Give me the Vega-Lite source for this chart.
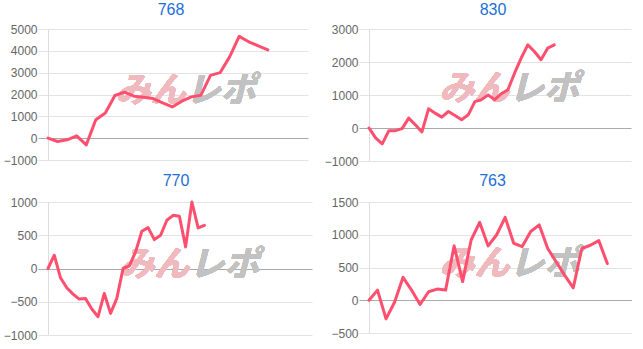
{
  "$schema": "https://vega.github.io/schema/vega-lite/v6.json",
  "background": "white",
  "padding": {"left": 3, "top": 2, "right": 0, "bottom": 0},
  "spacing": 6,
  "config": {
    "view": {"stroke": null},
    "axis": {"domainColor": "#dddddd", "labelFont": "Liberation Sans", "labelFontSize": 12, "labelColor": "#666666", "labelPadding": 1, "tickSize": 10, "grid": true, "format": "d", "title": null},
    "title": {"font": "Liberation Sans", "fontSize": 16, "fontWeight": "normal", "color": "#1c6fd6", "frame": "group", "anchor": "middle"},
    "line": {"color": "#ff4f6e", "strokeWidth": 3, "strokeJoin": "round", "strokeCap": "round"},
    "text": {"font": "Noto Sans CJK JP", "fontSize": 35, "fontWeight": "bold", "fontStyle": "italic", "baseline": "middle"}
  },
  "vconcat": [
    {
      "spacing": 16,
      "hconcat": [
        {
          "width": 260, "height": 131,
          "title": {"text": "768", "dx": -7, "offset": 5},
          "data": {"values": [
            {"i":0,"v":0},{"i":1,"v":-154},{"i":2,"v":-77},{"i":3,"v":108},{"i":4,"v":-308},{"i":5,"v":846},{"i":6,"v":1154},{"i":7,"v":1954},{"i":8,"v":2108},{"i":9,"v":1923},{"i":10,"v":1877},{"i":11,"v":1815},{"i":12,"v":1615},{"i":13,"v":1431},{"i":14,"v":1692},{"i":15,"v":1892},{"i":16,"v":1969},{"i":17,"v":2877},{"i":18,"v":3000},{"i":19,"v":3723},{"i":20,"v":4662},{"i":21,"v":4415},{"i":22,"v":4230},{"i":23,"v":4046}
          ]},
          "layer": [
            {"mark": {"type": "text", "text": "みん", "align": "right", "color": "#efb9be"},
             "encoding": {"x": {"datum": 14.4, "type": "quantitative", "scale": {"domain": [0, 27.2]}, "axis": null},
                          "y": {"datum": 2170, "type": "quantitative", "scale": {"domain": [-1000, 5000]}, "axis": {"values": [-1000,0,1000,2000,3000,4000,5000], "gridColor": {"condition": {"test": "datum.value === 0", "value": "#aaaaaa"}, "value": "#e3e3e3"}, "tickColor": {"condition": {"test": "datum.value === 0", "value": "#aaaaaa"}, "value": "#e3e3e3"}}}}},
            {"mark": {"type": "text", "text": "レポ", "align": "left", "color": "#c2c2c2"},
             "encoding": {"x": {"datum": 14.4, "type": "quantitative", "scale": {"domain": [0, 27.2]}, "axis": null},
                          "y": {"datum": 2170, "type": "quantitative", "scale": {"domain": [-1000, 5000]}, "axis": {"values": [-1000,0,1000,2000,3000,4000,5000], "gridColor": {"condition": {"test": "datum.value === 0", "value": "#aaaaaa"}, "value": "#e3e3e3"}, "tickColor": {"condition": {"test": "datum.value === 0", "value": "#aaaaaa"}, "value": "#e3e3e3"}}}}},
            {"mark": {"type": "line"},
             "encoding": {"x": {"field": "i", "type": "quantitative", "scale": {"domain": [0, 27.2]}, "axis": null},
                          "y": {"field": "v", "type": "quantitative", "scale": {"domain": [-1000, 5000]}, "axis": {"values": [-1000,0,1000,2000,3000,4000,5000], "gridColor": {"condition": {"test": "datum.value === 0", "value": "#aaaaaa"}, "value": "#e3e3e3"}, "tickColor": {"condition": {"test": "datum.value === 0", "value": "#aaaaaa"}, "value": "#e3e3e3"}}}}}
          ]
        },
        {
          "width": 262, "height": 132,
          "title": {"text": "830", "dx": -7, "offset": 5},
          "data": {"values": [
            {"i":0,"v":0},{"i":1,"v":-300},{"i":2,"v":-480},{"i":3,"v":-80},{"i":4,"v":-80},{"i":5,"v":-20},{"i":6,"v":300},{"i":7,"v":100},{"i":8,"v":-120},{"i":9,"v":580},{"i":10,"v":450},{"i":11,"v":330},{"i":12,"v":500},{"i":13,"v":380},{"i":14,"v":250},{"i":15,"v":400},{"i":16,"v":800},{"i":17,"v":860},{"i":18,"v":1000},{"i":19,"v":860},{"i":20,"v":1040},{"i":21,"v":1160},{"i":22,"v":1660},{"i":23,"v":2120},{"i":24,"v":2520},{"i":25,"v":2320},{"i":26,"v":2070},{"i":27,"v":2420},{"i":28,"v":2520}
          ]},
          "layer": [
            {"mark": {"type": "text", "text": "みん", "align": "right", "color": "#efb9be"},
             "encoding": {"x": {"datum": 21.2, "type": "quantitative", "scale": {"domain": [0, 39.6]}, "axis": null},
                          "y": {"datum": 1170, "type": "quantitative", "scale": {"domain": [-1000, 3000]}, "axis": {"values": [-1000,0,1000,2000,3000], "gridColor": {"condition": {"test": "datum.value === 0", "value": "#aaaaaa"}, "value": "#e3e3e3"}, "tickColor": {"condition": {"test": "datum.value === 0", "value": "#aaaaaa"}, "value": "#e3e3e3"}}}}},
            {"mark": {"type": "text", "text": "レポ", "align": "left", "color": "#c2c2c2"},
             "encoding": {"x": {"datum": 21.2, "type": "quantitative", "scale": {"domain": [0, 39.6]}, "axis": null},
                          "y": {"datum": 1170, "type": "quantitative", "scale": {"domain": [-1000, 3000]}, "axis": {"values": [-1000,0,1000,2000,3000], "gridColor": {"condition": {"test": "datum.value === 0", "value": "#aaaaaa"}, "value": "#e3e3e3"}, "tickColor": {"condition": {"test": "datum.value === 0", "value": "#aaaaaa"}, "value": "#e3e3e3"}}}}},
            {"mark": {"type": "line"},
             "encoding": {"x": {"field": "i", "type": "quantitative", "scale": {"domain": [0, 39.6]}, "axis": null},
                          "y": {"field": "v", "type": "quantitative", "scale": {"domain": [-1000, 3000]}, "axis": {"values": [-1000,0,1000,2000,3000], "gridColor": {"condition": {"test": "datum.value === 0", "value": "#aaaaaa"}, "value": "#e3e3e3"}, "tickColor": {"condition": {"test": "datum.value === 0", "value": "#aaaaaa"}, "value": "#e3e3e3"}}}}}
          ]
        }
      ]
    },
    {
      "spacing": 18,
      "hconcat": [
        {
          "width": 264, "height": 133,
          "title": {"text": "770", "dx": -4, "offset": 7},
          "data": {"values": [
            {"i":0,"v":0},{"i":1,"v":200},{"i":2,"v":-140},{"i":3,"v":-290},{"i":4,"v":-385},{"i":5,"v":-460},{"i":6,"v":-450},{"i":7,"v":-610},{"i":8,"v":-725},{"i":9,"v":-375},{"i":10,"v":-675},{"i":11,"v":-450},{"i":12,"v":0},{"i":13,"v":40},{"i":14,"v":250},{"i":15,"v":560},{"i":16,"v":615},{"i":17,"v":435},{"i":18,"v":500},{"i":19,"v":725},{"i":20,"v":800},{"i":21,"v":785},{"i":22,"v":325},{"i":23,"v":1000},{"i":24,"v":610},{"i":25,"v":650}
          ]},
          "layer": [
            {"mark": {"type": "text", "text": "みん", "align": "right", "color": "#efb9be"},
             "encoding": {"x": {"datum": 22.6, "type": "quantitative", "scale": {"domain": [0, 42.2]}, "axis": null},
                          "y": {"datum": 60, "type": "quantitative", "scale": {"domain": [-1000, 1000]}, "axis": {"values": [-1000,-500,0,500,1000], "gridColor": {"condition": {"test": "datum.value === 0", "value": "#aaaaaa"}, "value": "#e3e3e3"}, "tickColor": {"condition": {"test": "datum.value === 0", "value": "#aaaaaa"}, "value": "#e3e3e3"}}}}},
            {"mark": {"type": "text", "text": "レポ", "align": "left", "color": "#c2c2c2"},
             "encoding": {"x": {"datum": 22.6, "type": "quantitative", "scale": {"domain": [0, 42.2]}, "axis": null},
                          "y": {"datum": 60, "type": "quantitative", "scale": {"domain": [-1000, 1000]}, "axis": {"values": [-1000,-500,0,500,1000], "gridColor": {"condition": {"test": "datum.value === 0", "value": "#aaaaaa"}, "value": "#e3e3e3"}, "tickColor": {"condition": {"test": "datum.value === 0", "value": "#aaaaaa"}, "value": "#e3e3e3"}}}}},
            {"mark": {"type": "line"},
             "encoding": {"x": {"field": "i", "type": "quantitative", "scale": {"domain": [0, 42.2]}, "axis": null},
                          "y": {"field": "v", "type": "quantitative", "scale": {"domain": [-1000, 1000]}, "axis": {"values": [-1000,-500,0,500,1000], "gridColor": {"condition": {"test": "datum.value === 0", "value": "#aaaaaa"}, "value": "#e3e3e3"}, "tickColor": {"condition": {"test": "datum.value === 0", "value": "#aaaaaa"}, "value": "#e3e3e3"}}}}}
          ]
        },
        {
          "width": 263, "height": 131,
          "title": {"text": "763", "dx": -8, "offset": 7},
          "data": {"values": [
            {"i":0,"v":0},{"i":1,"v":155},{"i":2,"v":-285},{"i":3,"v":-30},{"i":4,"v":350},{"i":5,"v":155},{"i":6,"v":-65},{"i":7,"v":130},{"i":8,"v":170},{"i":9,"v":155},{"i":10,"v":830},{"i":11,"v":285},{"i":12,"v":920},{"i":13,"v":1190},{"i":14,"v":830},{"i":15,"v":1000},{"i":16,"v":1265},{"i":17,"v":870},{"i":18,"v":820},{"i":19,"v":1050},{"i":20,"v":1150},{"i":21,"v":790},{"i":22,"v":585},{"i":23,"v":380},{"i":24,"v":190},{"i":25,"v":790},{"i":26,"v":840},{"i":27,"v":910},{"i":28,"v":560}
          ]},
          "layer": [
            {"mark": {"type": "text", "text": "みん", "align": "right", "color": "#efb9be"},
             "encoding": {"x": {"datum": 16.5, "type": "quantitative", "scale": {"domain": [0, 30.9]}, "axis": null},
                          "y": {"datum": 560, "type": "quantitative", "scale": {"domain": [-500, 1500]}, "axis": {"values": [-500,0,500,1000,1500], "gridColor": {"condition": {"test": "datum.value === 0", "value": "#aaaaaa"}, "value": "#e3e3e3"}, "tickColor": {"condition": {"test": "datum.value === 0", "value": "#aaaaaa"}, "value": "#e3e3e3"}}}}},
            {"mark": {"type": "text", "text": "レポ", "align": "left", "color": "#c2c2c2"},
             "encoding": {"x": {"datum": 16.5, "type": "quantitative", "scale": {"domain": [0, 30.9]}, "axis": null},
                          "y": {"datum": 560, "type": "quantitative", "scale": {"domain": [-500, 1500]}, "axis": {"values": [-500,0,500,1000,1500], "gridColor": {"condition": {"test": "datum.value === 0", "value": "#aaaaaa"}, "value": "#e3e3e3"}, "tickColor": {"condition": {"test": "datum.value === 0", "value": "#aaaaaa"}, "value": "#e3e3e3"}}}}},
            {"mark": {"type": "line"},
             "encoding": {"x": {"field": "i", "type": "quantitative", "scale": {"domain": [0, 30.9]}, "axis": null},
                          "y": {"field": "v", "type": "quantitative", "scale": {"domain": [-500, 1500]}, "axis": {"values": [-500,0,500,1000,1500], "gridColor": {"condition": {"test": "datum.value === 0", "value": "#aaaaaa"}, "value": "#e3e3e3"}, "tickColor": {"condition": {"test": "datum.value === 0", "value": "#aaaaaa"}, "value": "#e3e3e3"}}}}}
          ]
        }
      ]
    }
  ]
}
